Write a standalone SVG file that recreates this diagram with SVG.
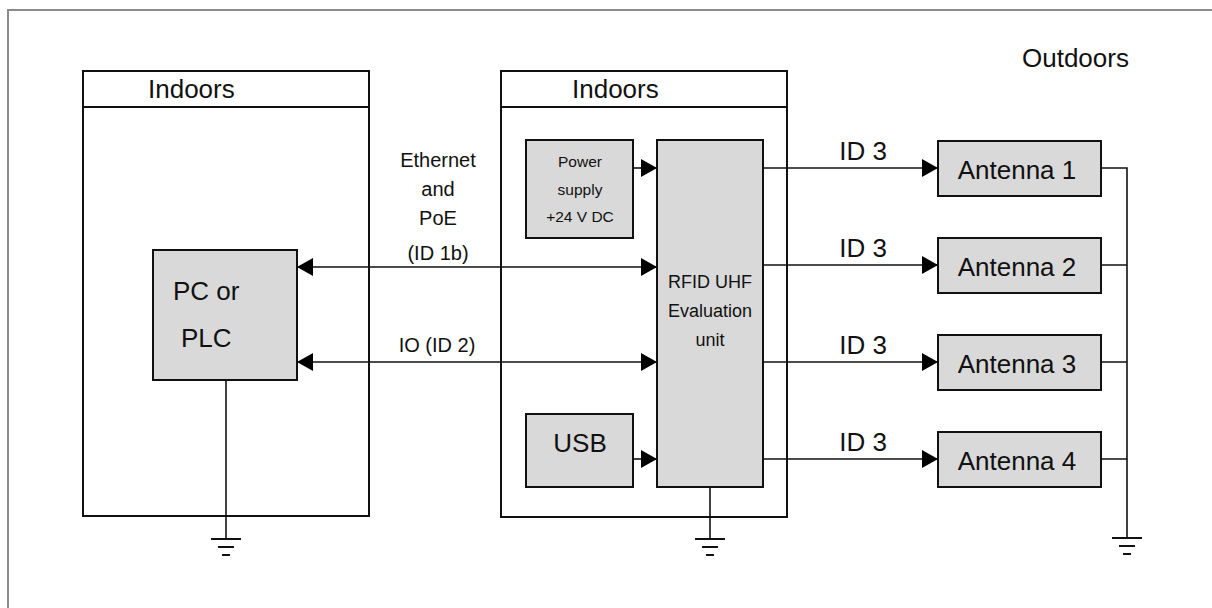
<svg xmlns="http://www.w3.org/2000/svg" width="1212" height="608" viewBox="0 0 1212 608">
<defs>
<marker id="ah" markerUnits="userSpaceOnUse" markerWidth="17" markerHeight="18" refX="16" refY="9" orient="auto-start-reverse" viewBox="0 0 17 18">
<path d="M0,0 L16,9 L0,18 Z" fill="#000"/>
</marker>
<style>
text{font-family:"Liberation Sans",Arial,sans-serif;fill:#111}
.big{font-size:26px}
.mid{font-size:20px}
.sm{font-size:15.5px}
.rf{font-size:18px}
.frame{fill:#fff;stroke:#111;stroke-width:2}
.blk{fill:#d9d9d9;stroke:#111;stroke-width:2}
.ln{fill:none;stroke:#111;stroke-width:1.6}
.gnd{fill:none;stroke:#111;stroke-width:2}
</style>
</defs>
<rect x="0" y="0" width="1212" height="608" fill="#fff"/>
<rect x="8" y="10" width="1220" height="620" fill="none" stroke="#8a8a8a" stroke-width="2"/>
<text id="outdoors" class="big" x="1022" y="67">Outdoors</text>

<g id="indoors-left">
<rect class="frame" x="83" y="71" width="286" height="445"/>
<line x1="83" y1="107" x2="369" y2="107" stroke="#111" stroke-width="2"/>
<text class="big" x="148" y="98">Indoors</text>
</g>
<g id="indoors-mid">
<rect class="frame" x="501" y="71" width="286" height="446"/>
<line x1="501" y1="107" x2="787" y2="107" stroke="#111" stroke-width="2"/>
<text class="big" x="572" y="98">Indoors</text>
</g>

<g id="connectors">
<line class="ln" x1="297" y1="267" x2="657" y2="267" marker-start="url(#ah)" marker-end="url(#ah)"/>
<line class="ln" x1="297" y1="362" x2="657" y2="362" marker-start="url(#ah)" marker-end="url(#ah)"/>
<line class="ln" x1="633" y1="168" x2="657" y2="168" marker-end="url(#ah)"/>
<line class="ln" x1="633" y1="459" x2="657" y2="459" marker-end="url(#ah)"/>
<line class="ln" x1="763" y1="168" x2="938" y2="168" marker-end="url(#ah)"/>
<line class="ln" x1="763" y1="265" x2="938" y2="265" marker-end="url(#ah)"/>
<line class="ln" x1="763" y1="362" x2="938" y2="362" marker-end="url(#ah)"/>
<line class="ln" x1="763" y1="459" x2="938" y2="459" marker-end="url(#ah)"/>
<path class="ln" d="M1101,168 H1127 V538 M1101,265 H1127 M1101,362 H1127 M1101,459 H1127"/>
<line class="ln" x1="226" y1="380" x2="226" y2="539"/>
<line class="ln" x1="710" y1="487" x2="710" y2="539"/>
<text class="mid" x="438" y="167" text-anchor="middle">Ethernet</text>
<text class="mid" x="438" y="196" text-anchor="middle">and</text>
<text class="mid" x="438" y="225" text-anchor="middle">PoE</text>
<text class="mid" x="438" y="260" text-anchor="middle">(ID 1b)</text>
<text class="mid" x="437" y="352" text-anchor="middle">IO (ID 2)</text>
<text class="big" x="863" y="160" text-anchor="middle">ID 3</text>
<text class="big" x="863" y="257" text-anchor="middle">ID 3</text>
<text class="big" x="863" y="354" text-anchor="middle">ID 3</text>
<text class="big" x="863" y="451" text-anchor="middle">ID 3</text>
</g>

<g id="ground-left"><path class="gnd" d="M211,539 H241 M218,547 H234 M222,555 H230"/></g>
<g id="ground-mid"><path class="gnd" d="M695,539 H725 M702,547 H718 M706,555 H714"/></g>
<g id="ground-right"><path class="gnd" d="M1112,538 H1142 M1119,546 H1135 M1123,554 H1131"/></g>

<g id="pc-plc">
<rect class="blk" x="153" y="250" width="144" height="130"/>
<text class="big" x="173" y="300">PC or</text>
<text class="big" x="181" y="347">PLC</text>
</g>
<g id="power-supply">
<rect class="blk" x="526" y="140" width="107" height="98"/>
<text class="sm" x="580" y="167" text-anchor="middle">Power</text>
<text class="sm" x="580" y="195" text-anchor="middle">supply</text>
<text class="sm" x="580" y="222" text-anchor="middle">+24 V DC</text>
</g>
<g id="usb">
<rect class="blk" x="526" y="414" width="107" height="73"/>
<text class="big" x="580" y="452" text-anchor="middle">USB</text>
</g>
<g id="rfid">
<rect class="blk" x="657" y="140" width="106" height="347"/>
<text class="rf" x="710" y="288" text-anchor="middle">RFID UHF</text>
<text class="rf" x="710" y="317" text-anchor="middle">Evaluation</text>
<text class="rf" x="710" y="346" text-anchor="middle">unit</text>
</g>
<g id="antenna1"><rect class="blk" x="938" y="141" width="163" height="55"/><text class="big" x="1017" y="179" text-anchor="middle">Antenna 1</text></g>
<g id="antenna2"><rect class="blk" x="938" y="238" width="163" height="55"/><text class="big" x="1017" y="276" text-anchor="middle">Antenna 2</text></g>
<g id="antenna3"><rect class="blk" x="938" y="335" width="163" height="55"/><text class="big" x="1017" y="373" text-anchor="middle">Antenna 3</text></g>
<g id="antenna4"><rect class="blk" x="938" y="432" width="163" height="55"/><text class="big" x="1017" y="470" text-anchor="middle">Antenna 4</text></g>
</svg>
